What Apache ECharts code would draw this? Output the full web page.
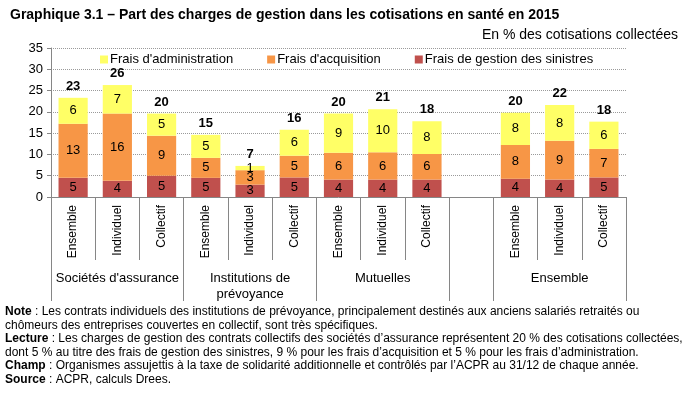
<!DOCTYPE html>
<html>
<head>
<meta charset="utf-8">
<script src="https://cdn.jsdelivr.net/npm/echarts@6/dist/echarts.min.js"></script>
<style>
  html, body { margin: 0; padding: 0; background: #fff; }
  #chart { width: 690px; height: 397px; }
</style>
</head>
<body>
<div id="chart"></div>
<script>
// 13 slots : 3 groupes de 3 + une colonne vide + Ensemble
const categories = ["Ensemble", "Individuel", "Collectif", "Ensemble", "Individuel", "Collectif",
  "Ensemble", "Individuel", "Collectif", "", "Ensemble", "Individuel", "Collectif"];
const groupLabels = ["", "Sociétés d'assurance", "", "", "Institutions de\nprévoyance", "", "", "Mutuelles", "", "", "", "Ensemble", ""];
const groupStarts = [0, 3, 6, 9, 10];

const sinistres = [4.5, 3.8, 5.0, 4.5, 2.9, 4.6, 4.1, 4.1, 4.1, null, 4.3, 4.1, 4.6];
const acquisition = [12.7, 15.8, 9.4, 4.7, 3.4, 5.1, 6.3, 6.4, 6.0, null, 7.9, 9.1, 6.7];
const administration = [6.1, 6.7, 5.2, 5.4, 1.0, 6.1, 9.2, 10.1, 7.7, null, 7.6, 8.4, 6.4];
const totals = [23, 26, 20, 15, 7, 16, 20, 21, 18, null, 20, 22, 18];

const yTicks = { min: 0, max: 35, interval: 5 };

const FONT = "'Liberation Sans', Arial, Helvetica, sans-serif";
const gridBox = { left: 51, right: 64, top: 48, bottom: 200 };

let chart = echarts.init(document.getElementById("chart"));

function segment(name, values, color) {
  return {
    name: name,
    type: "bar",
    stack: "total",
    barCategoryGap: "34%",
    data: values.map(v => (v == null ? "-" : v)),
    itemStyle: { color: color },
    label: {
      show: true,
      position: "inside",
      color: "#000",
      fontSize: 13,
      fontFamily: FONT,
      formatter: p => Math.round(p.value)
    }
  };
}

let option = {
  animation: false,
  textStyle: { fontFamily: FONT },
  title: [
    {
      text: "Graphique 3.1 – Part des charges de gestion dans les cotisations en santé en 2015",
      left: 5,
      top: 3,
      textStyle: { fontSize: 14, fontWeight: "bold", color: "#000", fontFamily: FONT }
    },
    {
      text: "En % des cotisations collectées",
      right: 7,
      top: 23,
      textStyle: { fontSize: 14, fontWeight: "normal", color: "#000", fontFamily: FONT }
    }
  ],
  legend: {
    data: ["Frais d'administration", "Frais d'acquisition", "Frais de gestion des sinistres"],
    left: 95,
    top: 48,
    icon: "rect",
    itemWidth: 8,
    itemHeight: 8,
    itemGap: 34,
    textStyle: { fontSize: 13, color: "#000", fontFamily: FONT, padding: [0, 0, 0, -3] }
  },
  grid: [
    Object.assign({}, gridBox),
    Object.assign({}, gridBox)
  ],
  xAxis: [
    {
      type: "category",
      gridIndex: 0,
      data: categories,
      axisLine: { lineStyle: { color: "#868686" } },
      axisTick: { show: true, interval: 0, length: 63, lineStyle: { color: "#868686" } },
      axisLabel: { interval: 0, rotate: 90, margin: 8, fontSize: 12, color: "#000", fontFamily: FONT }
    },
    {
      type: "category",
      gridIndex: 1,
      data: categories,
      axisLine: { show: false },
      axisTick: {
        show: true,
        length: 104,
        interval: (i) => groupStarts.indexOf(i) >= 0,
        lineStyle: { color: "#868686" }
      },
      axisLabel: {
        interval: 0,
        margin: 73,
        fontSize: 13,
        lineHeight: 16,
        color: "#000",
        fontFamily: FONT,
        formatter: (v, i) => groupLabels[i]
      }
    }
  ],
  yAxis: [
    {
      type: "value",
      gridIndex: 0,
      min: yTicks.min,
      max: yTicks.max,
      interval: yTicks.interval,
      axisLine: { show: true, lineStyle: { color: "#868686" } },
      axisTick: { show: true, length: 4, lineStyle: { color: "#868686" } },
      axisLabel: { margin: 8, fontSize: 13, color: "#000", fontFamily: FONT },
      splitLine: { lineStyle: { color: "#9a9a9a", type: "dotted" } }
    },
    {
      type: "value",
      gridIndex: 1,
      min: yTicks.min,
      max: yTicks.max,
      show: false
    }
  ],
  series: [
    segment("Frais de gestion des sinistres", sinistres, "#c0504d"),
    segment("Frais d'acquisition", acquisition, "#f79646"),
    segment("Frais d'administration", administration, "#ffff66"),
    {
      name: "Total",
      type: "bar",
      stack: "total",
      data: totals.map(t => (t == null ? "-" : 0)),
      itemStyle: { color: "transparent" },
      label: {
        show: true,
        position: "top",
        distance: 5,
        color: "#000",
        fontSize: 13,
        fontWeight: "bold",
        fontFamily: FONT,
        formatter: p => totals[p.dataIndex]
      }
    }
  ],
  graphic: [
    ["{b|Note} : Les contrats individuels des institutions de prévoyance, principalement destinés aux anciens salariés retraités ou", 313],
    ["chômeurs des entreprises couvertes en collectif, sont très spécifiques.", 327],
    ["{b|Lecture} : Les charges de gestion des contrats collectifs des sociétés d’assurance représentent 20 % des cotisations collectées,", 340],
    ["dont 5 % au titre des frais de gestion des sinistres, 9 % pour les frais d’acquisition et 5 % pour les frais d’administration.", 354],
    ["{b|Champ} : Organismes assujettis à la taxe de solidarité additionnelle et contrôlés par l’ACPR au 31/12 de chaque année.", 367],
    ["{b|Source} : ACPR, calculs Drees.", 381]
  ].map(([txt, y]) => ({
    type: "text",
    left: 5,
    top: y - 7,
    style: {
      text: txt,
      fill: "#000",
      font: "12px " + FONT,
      rich: { b: { fontWeight: "bold", fontSize: 12, fontFamily: FONT } }
    }
  }))
};

chart.setOption(option);
</script>
</body>
</html>
